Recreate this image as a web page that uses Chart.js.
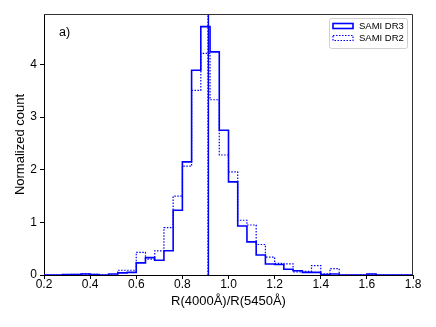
<!DOCTYPE html>
<html>
<head>
<meta charset="utf-8">
<script src="https://cdn.jsdelivr.net/npm/chart.js@4.4.0/dist/chart.umd.min.js"></script>
<style>
  html, body { margin: 0; padding: 0; background: #fff; }
  #wrap { width: 436px; height: 327px; }
</style>
</head>
<body>
<div id="wrap"><canvas id="histChart"></canvas></div>
<script>
// bin edges (width 0.04) from 0.2 to 1.8
const binEdges = [0.20, 0.24, 0.28, 0.32, 0.36, 0.40, 0.44, 0.48, 0.52, 0.56,
                  0.60, 0.64, 0.68, 0.72, 0.76, 0.80, 0.84, 0.88, 0.92, 0.96,
                  1.00, 1.04, 1.08, 1.12, 1.16, 1.20, 1.24, 1.28, 1.32, 1.36,
                  1.40, 1.44, 1.48, 1.52, 1.56, 1.60, 1.64, 1.68, 1.72, 1.76, 1.80];

// normalized counts per bin
const dr3Values = [0, 0, 0.01, 0.01, 0.02, 0.01, 0, 0.02, 0.04, 0.05,
                   0.23, 0.33, 0.28, 0.46, 1.23, 2.15, 3.89, 4.72, 4.24, 2.75,
                   1.77, 0.93, 0.63, 0.38, 0.21, 0.20, 0.11, 0.08, 0.05, 0.05,
                   0.01, 0.02, 0, 0, 0, 0.02, 0, 0, 0, 0];
const dr2Values = [0, 0, 0, 0.01, 0.02, 0.01, 0, 0, 0.09, 0.09,
                   0.43, 0.30, 0.46, 0.90, 1.50, 2.07, 3.51, 4.21, 3.33, 2.28,
                   1.96, 1.04, 0.95, 0.58, 0.34, 0.22, 0.21, 0.06, 0.07, 0.18,
                   0.02, 0.12, 0, 0, 0, 0.01, 0, 0, 0, 0];

const medianDR3 = 0.913;
const medianDR2 = 0.911;

const xTickValues = [0.2, 0.4, 0.6, 0.8, 1.0, 1.2, 1.4, 1.6, 1.8];
const yTickValues = [0, 1, 2, 3, 4];
const yMax = 4.96;

const blue = '#0000ff';

// step outline, matplotlib histtype='step' style
function stepPoints(values) {
    const pts = [{ x: binEdges[0], y: 0 }];
    values.forEach((v, i) => pts.push({ x: binEdges[i], y: v }));
    const last = binEdges[values.length];
    pts.push({ x: last, y: values[values.length - 1] });
    pts.push({ x: last, y: 0 });
    return pts;
}

function vline(x) {
    return [{ x: x, y: 0 }, { x: x, y: yMax }];
}

// frame, legend box and panel label
const decorPlugin = {
    id: 'decor',
    afterDatasetsDraw(chart) {
        const { ctx, chartArea: a } = chart;
        ctx.save();

        // top / right frame
        ctx.strokeStyle = '#333';
        ctx.lineWidth = 1;
        ctx.beginPath();
        ctx.moveTo(a.left, a.top + 0.5);
        ctx.lineTo(a.right - 0.5, a.top + 0.5);
        ctx.lineTo(a.right - 0.5, a.bottom);
        ctx.stroke();

        // panel label
        ctx.fillStyle = '#000';
        ctx.font = '12.5px "Liberation Sans", Arial, sans-serif';
        ctx.textBaseline = 'middle';
        ctx.textAlign = 'left';
        ctx.fillText('a)', a.left + 15, a.top + 19);

        // legend
        const items = chart.data.datasets.filter(d => d.inLegend);
        const bw = 78, bh = 30;
        const bx = a.right - 6 - bw, by = a.top + 4;
        ctx.fillStyle = '#fff';
        ctx.strokeStyle = '#d0d0d0';
        ctx.lineWidth = 1;
        ctx.beginPath();
        ctx.roundRect(bx + 0.5, by + 0.5, bw, bh, 2);
        ctx.fill();
        ctx.stroke();

        ctx.font = '9.5px "Liberation Sans", Arial, sans-serif';
        items.forEach((d, i) => {
            const cy = by + 8 + i * 12;
            ctx.strokeStyle = d.borderColor;
            ctx.lineWidth = d.borderWidth;
            ctx.setLineDash(d.borderDash || []);
            ctx.strokeRect(bx + 4, cy - 2.5, 20, 5);
            ctx.setLineDash([]);
            ctx.fillStyle = '#000';
            ctx.fillText(d.label, bx + 30, cy + 0.5);
        });
        ctx.restore();
    }
};

const ctx = document.getElementById('histChart');
new Chart(ctx.getContext('2d'), {
    type: 'line',
    data: {
        datasets: [{
            label: 'SAMI DR3',
            inLegend: true,
            data: stepPoints(dr3Values),
            borderColor: blue,
            borderWidth: 1.6,
            stepped: true,
            pointRadius: 0,
            fill: false
        },
        {
            label: 'SAMI DR2',
            inLegend: true,
            data: stepPoints(dr2Values),
            borderColor: blue,
            borderWidth: 1.2,
            borderDash: [1.5, 1.5],
            stepped: true,
            pointRadius: 0,
            fill: false
        },
        {
            label: 'DR3 median',
            data: vline(medianDR3),
            borderColor: blue,
            borderWidth: 1.4,
            pointRadius: 0
        },
        {
            label: 'DR2 median',
            data: vline(medianDR2),
            borderColor: blue,
            borderWidth: 1.2,
            borderDash: [1.5, 1.5],
            pointRadius: 0
        }]
    },
    options: {
        responsive: true,
        maintainAspectRatio: false,
        animation: false,
        layout: {
            padding: { top: 14, right: 23, left: 0, bottom: 0 }
        },
        scales: {
            x: {
                type: 'linear',
                min: 0.2,
                max: 1.8,
                afterBuildTicks: scale => {
                    scale.ticks = xTickValues.map(v => ({ value: v }));
                },
                afterFit: scale => { scale.height = 52; },
                ticks: {
                    color: '#000',
                    padding: -2,
                    maxRotation: 0,
                    font: { family: '"Liberation Sans", Arial, sans-serif', size: 12 },
                    callback: v => v.toFixed(1)
                },
                grid: {
                    drawOnChartArea: false,
                    tickLength: 4,
                    color: '#000'
                },
                border: { color: '#000' },
                title: {
                    display: true,
                    text: 'R(4000Å)/R(5450Å)',
                    color: '#000',
                    font: { family: '"Liberation Sans", Arial, sans-serif', size: 13 },
                    padding: { top: 0, bottom: 18 }
                }
            },
            y: {
                min: 0,
                max: yMax,
                afterBuildTicks: scale => {
                    scale.ticks = yTickValues.map(v => ({ value: v }));
                },
                afterFit: scale => { scale.width = 44; },
                ticks: {
                    color: '#000',
                    padding: 3,
                    font: { family: '"Liberation Sans", Arial, sans-serif', size: 12 },
                    callback: v => String(v)
                },
                grid: {
                    drawOnChartArea: false,
                    tickLength: 4,
                    color: '#000'
                },
                border: { color: '#000' },
                title: {
                    display: true,
                    text: 'Normalized count',
                    color: '#000',
                    font: { family: '"Liberation Sans", Arial, sans-serif', size: 13 },
                    padding: { top: 13, bottom: 0 }
                }
            }
        },
        plugins: {
            legend: { display: false },
            tooltip: { enabled: false }
        }
    },
    plugins: [decorPlugin]
});
</script>
</body>
</html>
